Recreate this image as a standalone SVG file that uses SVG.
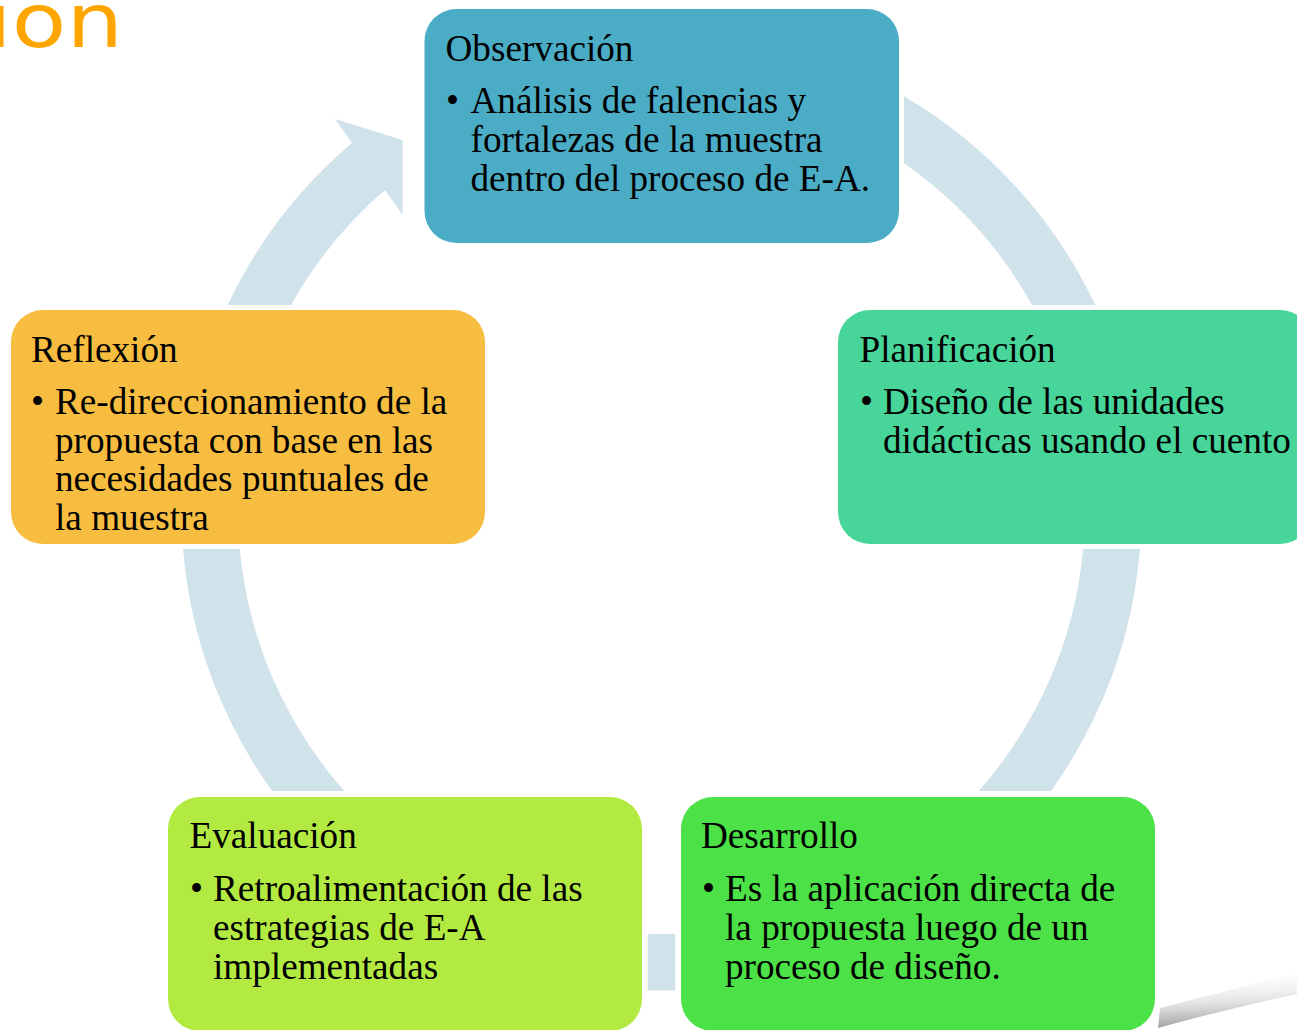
<svg xmlns="http://www.w3.org/2000/svg" width="1297" height="1030" viewBox="0 0 1297 1030">
<style>
.ring{fill:#D0E3EB}
.box{stroke:none}
.t{font-family:"Liberation Serif","Times New Roman",serif;font-size:37.2px;fill:#000}
.title{font-family:"DejaVu Sans","Liberation Sans",sans-serif;font-size:74px;fill:#FFA500}
</style>
<defs>
<linearGradient id="curl" x1="0" y1="0" x2="0.12" y2="1">
<stop offset="0" stop-color="#ffffff" stop-opacity="0"/>
<stop offset="0.6" stop-color="#e2e2e2"/>
<stop offset="0.9" stop-color="#b4b4b4"/>
<stop offset="1" stop-color="#9a9a9a"/>
</linearGradient>
</defs>
<rect width="1297" height="1030" fill="#ffffff"/>
<text class="title" x="-13" y="47" textLength="136" lengthAdjust="spacingAndGlyphs">ion</text>
<path d="M1160,1008 Q1230,990 1297,972 L1297,994 Q1230,1008 1158,1028 Z" fill="url(#curl)"/>
<g id="connectors">
<path class="ring" d="M904,96.2 A480,480 0 0 1 1095.3,305 L1031.9,305 A423.5,423.5 0 0 0 904,163.2 Z"/>
<path class="ring" d="M1139.9,549 A480,480 0 0 1 1050.9,791 L978.7,791 A423.5,423.5 0 0 0 1083.2,549 Z"/>
<path class="ring" d="M675.3,990.2 A480,480 0 0 1 647.7,990.2 L647.7,933.7 A423.5,423.5 0 0 0 675.3,933.7 Z"/>
<path class="ring" d="M272.1,791 A480,480 0 0 1 183.1,549 L239.8,549 A423.5,423.5 0 0 0 344.3,791 Z"/>
<path class="ring" d="M227.7,305 A480,480 0 0 1 352,143 L335,119 L402.5,140 L402.5,215 L385,190 A423.5,423.5 0 0 0 291.1,305 Z"/>
</g>
<g id="observacion">
<rect class="box" x="424.5" y="9" width="474.5" height="234" rx="32" fill="#4BACC6"/>
<text class="t" x="445.5" y="60.5">Observación</text>
<text class="t" x="446" y="113.2">•</text>
<text class="t" x="470.5" y="113.2">Análisis de falencias y</text>
<text class="t" x="470.5" y="152.2">fortalezas de la muestra</text>
<text class="t" x="470.5" y="191.2">dentro del proceso de E-A.</text>
</g>
<g id="reflexion">
<rect class="box" x="11" y="310" width="474" height="234" rx="32" fill="#F6BD41"/>
<text class="t" x="31" y="361.5">Reflexión</text>
<text class="t" x="31" y="413.7">•</text>
<text class="t" x="55" y="413.7">Re-direccionamiento de la</text>
<text class="t" x="55" y="452.7">propuesta con base en las</text>
<text class="t" x="55" y="491.4">necesidades puntuales de</text>
<text class="t" x="55" y="530.4">la muestra</text>
</g>
<g id="planificacion">
<rect class="box" x="838" y="310" width="474" height="234" rx="32" fill="#47D59A"/>
<text class="t" x="859.5" y="361.5">Planificación</text>
<text class="t" x="860" y="413.7">•</text>
<text class="t" x="883" y="413.7">Diseño de las unidades</text>
<text class="t" x="883" y="452.7">didácticas usando el cuento</text>
</g>
<g id="evaluacion">
<rect class="box" x="168" y="797" width="474" height="234" rx="32" fill="#B3EA42"/>
<text class="t" x="189.5" y="848">Evaluación</text>
<text class="t" x="190" y="900.5">•</text>
<text class="t" x="213" y="900.5">Retroalimentación de las</text>
<text class="t" x="213" y="939.5">estrategias de E-A</text>
<text class="t" x="213" y="978.5">implementadas</text>
</g>
<g id="desarrollo">
<rect class="box" x="681" y="797" width="474" height="234" rx="32" fill="#4CE147"/>
<text class="t" x="701" y="848">Desarrollo</text>
<text class="t" x="702" y="900.5">•</text>
<text class="t" x="725" y="900.5">Es la aplicación directa de</text>
<text class="t" x="725" y="939.5">la propuesta luego de un</text>
<text class="t" x="725" y="978.5">proceso de diseño.</text>
</g>
</svg>
